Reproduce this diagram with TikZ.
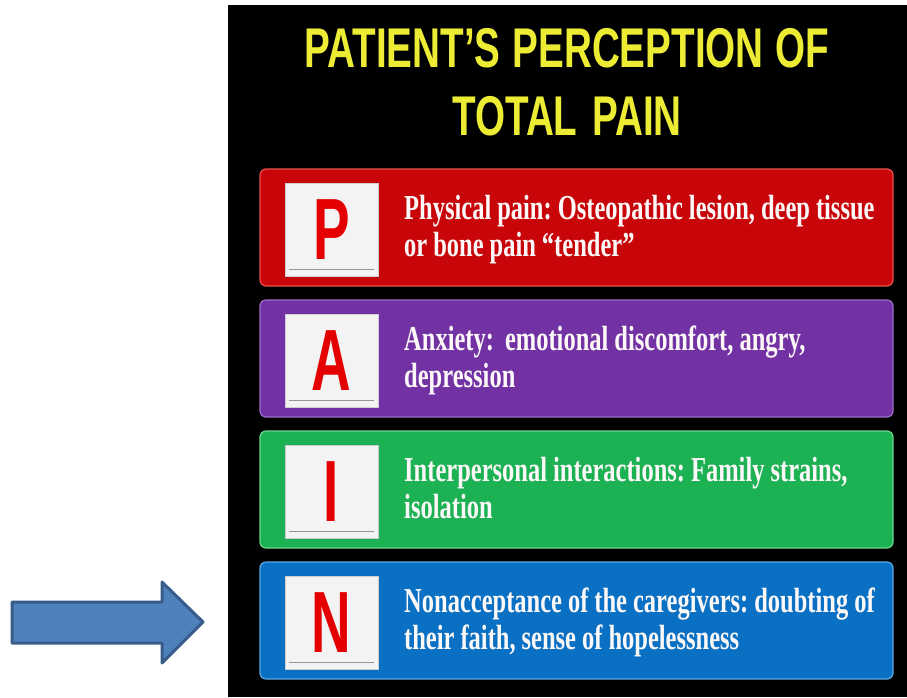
\documentclass[tikz,border=0pt]{standalone}
\usepackage{fontspec}
\setmainfont{Liberation Serif}
\newfontfamily\titlefont[FakeStretch=0.69]{Liberation Sans Bold}
\newfontfamily\letterfont[FakeStretch=0.63]{Liberation Sans Bold}
\newfontfamily\bodyfont[FakeStretch=0.70]{Liberation Serif Bold}
\newcommand{\titlespacing}{\frenchspacing\spaceskip=10.8pt plus 2pt minus 2pt\relax}
\newcommand{\bodyspacing}{\frenchspacing\spaceskip=6pt plus 1pt minus 1pt\relax}
\usetikzlibrary{calc}
\definecolor{titleyellow}{RGB}{236,236,52}
\definecolor{pred}{RGB}{200,6,10}
\definecolor{predhl}{RGB}{232,80,80}
\definecolor{ppurple}{RGB}{114,50,164}
\definecolor{ppurplehl}{RGB}{160,110,205}
\definecolor{pgreen}{RGB}{28,178,84}
\definecolor{pgreenhl}{RGB}{110,215,140}
\definecolor{pblue}{RGB}{10,112,196}
\definecolor{pbluehl}{RGB}{90,170,230}
\definecolor{sqfill}{RGB}{243,243,243}
\definecolor{sqedge}{RGB}{205,205,205}
\definecolor{sqshadow}{RGB}{150,150,150}
\definecolor{letterred}{RGB}{228,0,0}
\definecolor{arrowfill}{RGB}{79,129,189}
\definecolor{arrowedge}{RGB}{56,93,138}
\definecolor{bodywhite}{RGB}{252,248,248}
\tikzset{
  titletext/.style={anchor=base, text width=660pt, align=center, inner sep=0pt,
    text=titleyellow, font=\titlefont\fontsize{56}{68}\selectfont},
  rowbox/.style={rectangle, rounded corners=6pt, minimum width=633pt,
    minimum height=117pt, inner sep=0pt, line width=1.2pt},
  lettersq/.style={rectangle, minimum width=93pt, minimum height=93pt, inner sep=0pt,
    fill=sqfill, draw=sqedge, line width=0.8pt, text=letterred,
    font=\letterfont\fontsize{87}{87}\selectfont},
  sqline/.style={draw=sqshadow, line width=1.8pt},
  rowtext/.style={anchor=base west, text width=560pt, align=left, inner sep=0pt,
    text=bodywhite, font=\bodyfont\fontsize{35}{37}\selectfont},
  blockarrow/.style={fill=arrowfill, draw=arrowedge, line width=3pt, line join=round}
}
\newcommand{\painrow}[7]{%
  \node[rowbox, fill=#3, draw=#4] (#1box) at (576.5, #2+58.5) {};
  \node[lettersq] (#1sq) at (331.5, #2+60.5) {#5};
  \draw[sqline] ([xshift=4pt,yshift=7pt]#1sq.south west) -- ([xshift=-4pt,yshift=7pt]#1sq.south east);
  \node[rowtext] (#1txt) at (404, #2+50) {\bodyspacing #6\\#7};
}
\begin{document}
\begin{tikzpicture}[x=1pt, y=-1pt]
  \useasboundingbox (0,0) rectangle (907,697);
  \fill[white] (0,0) rectangle (907,697);
  \fill[black] (228,5) rectangle (907,697);
  \node[titletext] (title) at (567,67) {\titlespacing PATIENT’S PERCEPTION OF\\TOTAL PAIN};
  \painrow{p}{169}{pred}{predhl}{P}{Physical pain: Osteopathic lesion, deep tissue}{or bone pain “tender”}
  \painrow{a}{300}{ppurple}{ppurplehl}{A}{Anxiety:\hspace{11pt}emotional discomfort, angry,}{depression}
  \painrow{i}{431}{pgreen}{pgreenhl}{I}{Interpersonal interactions: Family strains,}{isolation}
  \painrow{n}{562}{pblue}{pbluehl}{N}{Nonacceptance of the caregivers: doubting of}{their faith, sense of hopelessness}
  \draw[blockarrow] (12,602) -- (162,602) -- (162,582) -- (203,622) -- (162,663)
    -- (162,643) -- (12,643) -- cycle;
\end{tikzpicture}
\end{document}
